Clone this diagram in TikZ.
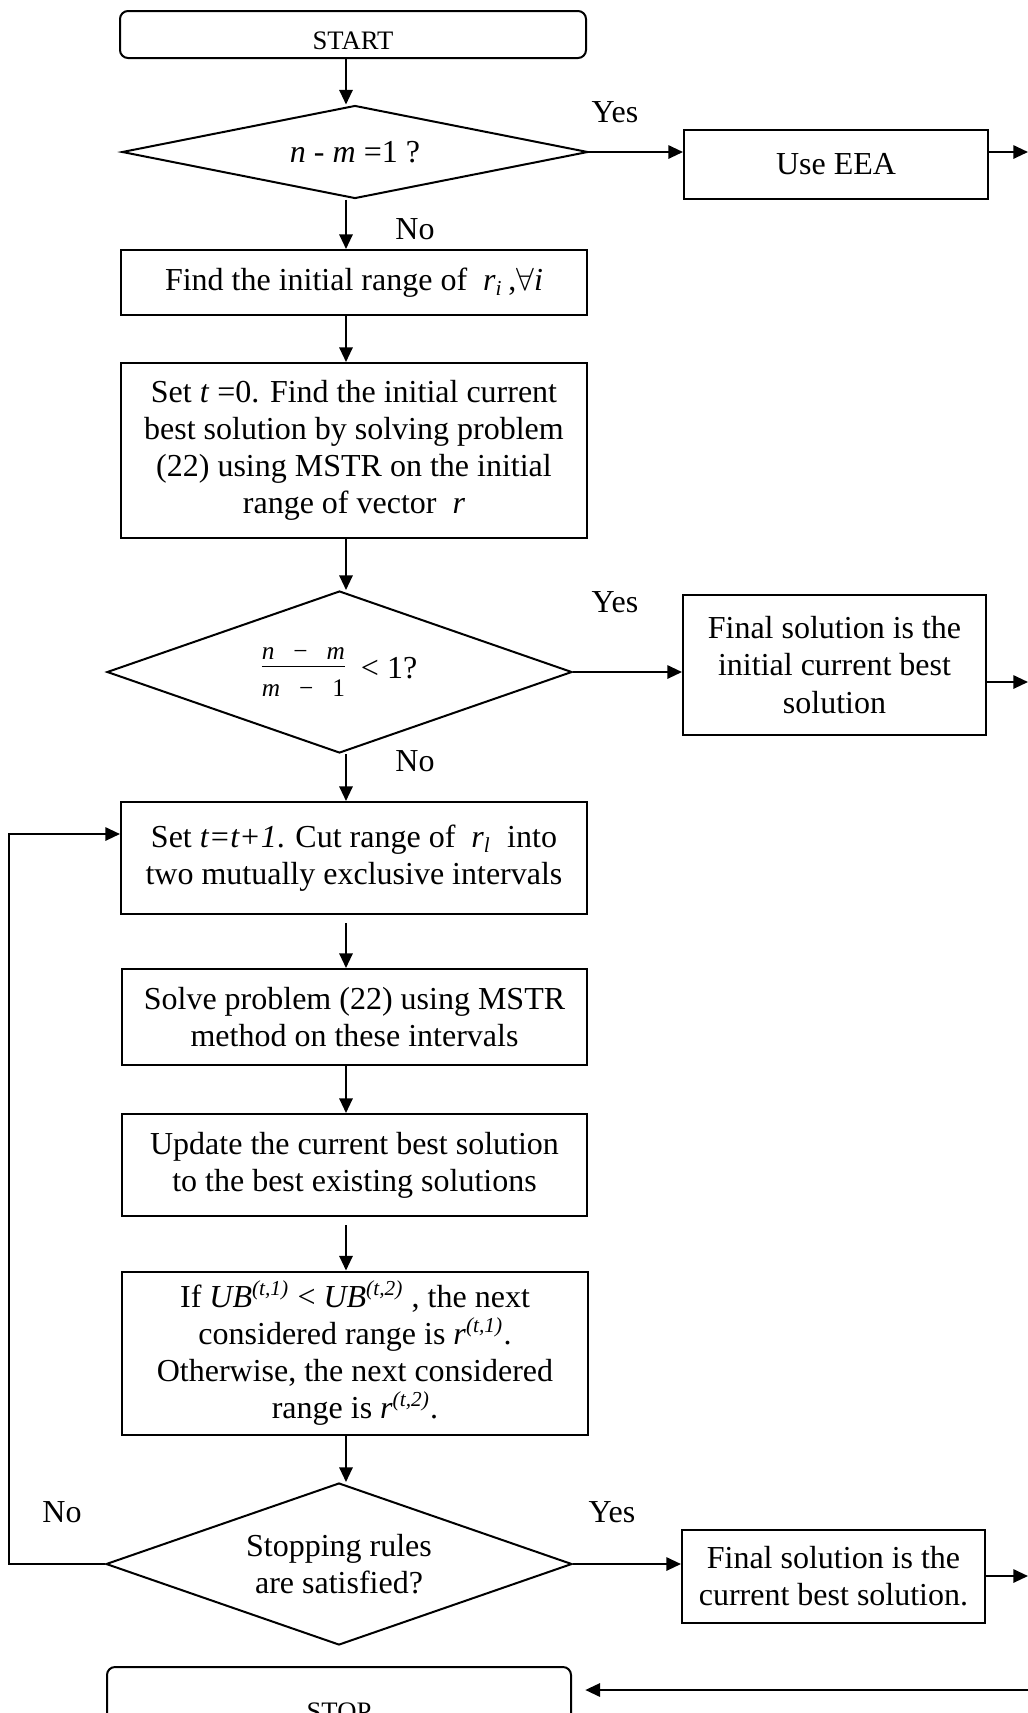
\documentclass[tikz,border=0pt]{standalone}
\usepackage{fontspec}
\setmainfont{Liberation Serif}
\usetikzlibrary{shapes.geometric,arrows.meta,calc}
\def\u{0.375pt}
\tikzset{
  base/.style={draw, line width=0.75pt, align=center, font=\fontsize{12}{13.9}\selectfont, inner sep=0pt},
  procbox/.style={base, rectangle},
  termbox/.style={base, rectangle, rounded corners=3pt, font=\fontsize{10}{12}\selectfont},
  decision/.style={base, diamond, shape aspect=2.9},
  arr/.style={line width=0.75pt, -{Triangle[length=5.5pt,width=5pt]}},
  lab/.style={font=\fontsize{12}{14}\selectfont, inner sep=0pt}
}
\begin{document}
\begin{tikzpicture}[x=0.375pt,y=-0.375pt]
\clip (0,0) rectangle (1028,1713);
\fill[white] (0,0) rectangle (1028,1713);
\coordinate (col) at (346,0);

% nodes
\node[termbox, minimum width={466*\u}, minimum height={47*\u}] (start) at (353,34.5) {\raisebox{-2.2pt}[\height][\depth]{START}};
\node[decision, minimum width={466*\u}, minimum height={93*\u}] (d1) at (355,152) {\textit{n} - \textit{m} =1 ?};
\node[procbox, minimum width={304*\u}, minimum height={69*\u}] (eea) at (836,164.5) {Use EEA};
\node[procbox, minimum width={466*\u}, minimum height={65*\u}] (box2) at (354,282.5) {Find the initial range of \ \textit{r}\textsubscript{\textit{i}}\,,$\forall$\textit{i}};
\node[procbox, minimum width={466*\u}, minimum height={175*\u}] (box3) at (354,450.5) {Set \textit{t} =0. Find the initial current\\best solution by solving problem\\(22) using MSTR on the initial\\range of vector \ \textit{r}};
\node[decision, minimum width={465*\u}, minimum height={162*\u}] (d2) at (339.5,672) {{\fontsize{9.5}{11}\selectfont\begin{tabular}{@{}c@{}}\textit{n} \ \ − \ \ \textit{m}\\[-1pt]\hline\rule{0pt}{11pt}\textit{m} \ \ − \ \ 1\end{tabular}} \ < 1?};
\node[procbox, minimum width={303*\u}, minimum height={140*\u}] (fin1) at (834.5,665) {Final solution is the\\initial current best\\solution};
\node[procbox, minimum width={466*\u}, minimum height={112*\u}] (box4) at (354,858) {Set \textit{t=t+1}. Cut range of \ \textit{r}\textsubscript{\textit{l}} \ into\\two mutually exclusive intervals};
\node[procbox, minimum width={465*\u}, minimum height={96*\u}] (box5) at (354.5,1017) {Solve problem (22) using MSTR\\method on these intervals};
\node[procbox, minimum width={465*\u}, minimum height={102*\u}] (box6) at (354.5,1165) {Update the current best solution\\to the best existing solutions};
\node[procbox, minimum width={466*\u}, minimum height={163*\u}] (box7) at (355,1353) {If \textit{UB}\textsuperscript{\textit{(t,1)}} < \textit{UB}\textsuperscript{\textit{(t,2)}} , the next\\considered range is \textit{r}\textsuperscript{\textit{(t,1)}}.\\Otherwise, the next considered\\range is \textit{r}\textsuperscript{\textit{(t,2)}}.};
\node[decision, minimum width={466*\u}, minimum height={162*\u}] (d3) at (339,1564) {Stopping rules\\are satisfied?};
\node[procbox, minimum width={303*\u}, minimum height={93*\u}] (fin2) at (833.5,1576) {Final solution is the\\current best solution.};
\node[termbox, minimum width={464*\u}, minimum height={84*\u}] (stop) at (339,1709) {\raisebox{-1pt}[\height][\depth]{STOP}};

% labels
\node[lab] (yes1) at (615,112) {Yes};
\node[lab] (no1) at (415,229) {No};
\node[lab] (yes2) at (615,602) {Yes};
\node[lab] (no2) at (415,761) {No};
\node[lab] (no3) at (62,1512) {No};
\node[lab] (yes3) at (612,1512) {Yes};

% free ends at right edge
\coordinate (e1) at (1028,152);
\coordinate (e2) at (1028,682);
\coordinate (e3) at (1028,1576);
\coordinate (e4) at (1028,1690);
\coordinate (loopx) at (9,0);
\coordinate (loopy) at (0,834);

% vertical flow
\draw[arr] (start.south -| col) -- (d1.north -| col);
\draw[arr] (d1.south -| col) -- (box2.north -| col);
\draw[arr] (box2.south -| col) -- (box3.north -| col);
\draw[arr] (box3.south -| col) -- (d2.north -| col);
\draw[arr] (d2.south -| col) -- (box4.north -| col);
\draw[arr, shorten <=3pt] (box4.south -| col) -- (box5.north -| col);
\draw[arr] (box5.south -| col) -- (box6.north -| col);
\draw[arr, shorten <=3pt] (box6.south -| col) -- (box7.north -| col);
\draw[arr] (box7.south -| col) -- (d3.north -| col);

% yes branches
\draw[arr] (d1.east) -- (d1.east -| eea.west);
\draw[arr] (e1 -| eea.east) -- (e1);
\draw[arr] (d2.east) -- (d2.east -| fin1.west);
\draw[arr] (e2 -| fin1.east) -- (e2);
\draw[arr] (d3.east) -- (d3.east -| fin2.west);
\draw[arr] (e3 -| fin2.east) -- (e3);
\draw[arr, shorten >=5pt] (e4) -- (e4 -| stop.east);

% loop back
\draw[arr] (d3.west) -- (d3.west -| loopx) -- (loopx |- loopy) -- (loopy -| box4.west);
\end{tikzpicture}
\end{document}
